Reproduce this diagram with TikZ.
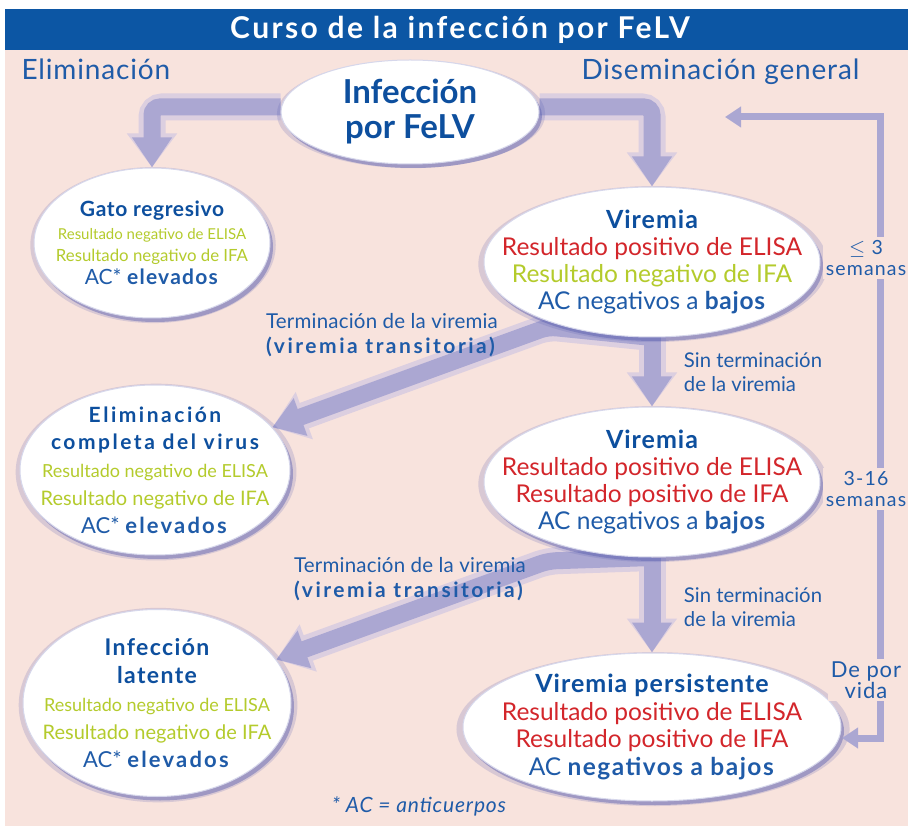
\documentclass[tikz,border=0pt]{standalone}
\usepackage{fontspec}
\setmainfont{Lato}
\usepackage{tikz}
\usetikzlibrary{positioning,arrows.meta,shapes.geometric,shadows,calc}
\pgfdeclarelayer{background}
\pgfsetlayers{background,main}

\definecolor{pinkbg}{HTML}{F8E3DD}
\definecolor{titlebar}{HTML}{0C56A4}
\definecolor{felvblue}{HTML}{0D4F9E}
\definecolor{textblue}{HTML}{1F5BA8}
\definecolor{felvred}{HTML}{D3262B}
\definecolor{felvgreen}{HTML}{B4CB2C}
\definecolor{bandcol}{HTML}{ABA7D2}
\definecolor{bandsoft}{HTML}{DCCFE0}
\definecolor{shadowblue}{HTML}{5A5FB0}

\newcommand{\spaced}[1]{\addfontfeature{LetterSpace=#1}}
\newcommand{\headline}{\bfseries\color{felvblue}}
\newcommand{\fs}[1]{\fontsize{#1}{27.8}\selectfont}

\begin{document}
\begin{tikzpicture}[
    x=1pt, y=-1pt,
    oval/.style={ellipse, fill=white, draw=shadowblue!25, line width=1pt, inner sep=-45pt, align=center, text=textblue,
      drop shadow={shadow xshift=1pt, shadow yshift=-2pt, shadow scale=1.04, fill=shadowblue, opacity=.2},
      drop shadow={shadow xshift=3pt, shadow yshift=-4pt, fill=shadowblue, opacity=.45}},
    band/.style={line width=17pt, draw=bandcol, rounded corners=8pt, -{Triangle[width=38pt,length=30pt]}},
    bandglow/.style={line width=27pt, draw=bandsoft, rounded corners=10pt, -{Triangle[width=48pt,length=34pt]}},
    loopline/.style={line width=7pt, draw=bandcol, {Triangle[width=20pt,length=16pt]}-{Triangle[width=20pt,length=16pt]}},
    sidelabel/.style={fill=pinkbg, inner sep=3pt, align=center, text=textblue, font=\fontsize{19.5}{21}\selectfont\spaced{6}},
    steplabel/.style={align=left, text=textblue, font=\fontsize{20.5}{24.5}\selectfont}
]
\useasboundingbox (0,0) rectangle (908,826);

% Header
\begin{pgfonlayer}{background}
\fill[pinkbg] (5,50) rectangle (908,826);
\fill[titlebar] (5,9) rectangle (908,50);
\end{pgfonlayer}
\node[text=white, font=\bfseries\fontsize{30}{30}\selectfont\spaced{8}] (title) at (460,30) {Curso de la infección por FeLV};
\node[anchor=base west, text=textblue, font=\fontsize{28}{28}\selectfont\spaced{3}] (elimlabel) at (18,80) {Eliminación};
\node[anchor=base west, text=textblue, font=\fontsize{28}{28}\selectfont\spaced{3}] (dislabel) at (578,80) {Diseminación general};

% Ellipses
\node[oval, minimum width=258pt, minimum height=104pt, font=\bfseries\fontsize{33}{35}\selectfont, text=felvblue] (infeccion) at (410,112) {Infección\\por FeLV};

\node[oval, minimum width=236pt, minimum height=150pt, font=\fontsize{15}{22.5}\selectfont] (gato) at (152,243)
  {{\fontsize{21}{22.5}\selectfont\headline\spaced{3} Gato regresivo}\\
   {\color{felvgreen}Resultado negativo de ELISA}\\
   {\fontsize{16.8}{22.5}\selectfont\color{felvgreen}Resultado negativo de IFA}\\
   {\fontsize{21}{22.5}\selectfont AC* \textbf{\spaced{6}elevados}}};

\node[oval, minimum width=336pt, minimum height=150pt, font=\fontsize{24.5}{27}\selectfont] (vir1) at (652,262)
  {{\fontsize{25}{27}\selectfont\headline\spaced{4} Viremia}\\
   {\color{felvred}Resultado positivo de ELISA}\\
   {\color{felvgreen}Resultado negativo de IFA}\\
   AC negativos a \textbf{\spaced{3}bajos}};

\node[oval, minimum width=270pt, minimum height=170pt, font=\fs{18}] (elim) at (155,470)
  {{\fs{21}\headline\spaced{12} Eliminación}\\
   {\fs{21}\headline\spaced{12} completa del virus}\\
   {\color{felvgreen}Resultado negativo de ELISA}\\
   {\fs{20}\color{felvgreen}Resultado negativo de IFA}\\
   {\fs{22}AC* \textbf{\spaced{10}elevados}}};

\node[oval, minimum width=336pt, minimum height=150pt, font=\fontsize{24.5}{27}\selectfont] (vir2) at (652,482)
  {{\fontsize{25}{27}\selectfont\headline\spaced{4} Viremia}\\
   {\color{felvred}Resultado positivo de ELISA}\\
   {\color{felvred}Resultado positivo de IFA}\\
   AC negativos a \textbf{\spaced{3}bajos}};

\node[oval, minimum width=268pt, minimum height=187pt, font=\fs{18}] (latente) at (157,703)
  {{\fs{23}\headline\spaced{6} Infección}\\
   {\fs{23}\headline\spaced{6} latente}\\
   {\color{felvgreen}Resultado negativo de ELISA}\\
   {\fs{20}\color{felvgreen}Resultado negativo de IFA}\\
   {\fs{22}AC* \textbf{\spaced{10}elevados}}};

\node[oval, minimum width=378pt, minimum height=148pt, font=\fontsize{24.5}{27.5}\selectfont] (persist) at (652,727)
  {{\fontsize{25}{27.5}\selectfont\headline\spaced{4} Viremia persistente}\\
   {\color{felvred}Resultado positivo de ELISA}\\
   {\color{felvred}Resultado positivo de IFA}\\
   AC \textbf{\spaced{6}negativos a bajos}};

% Step labels
\node[steplabel] (term1) at (382,335) {{\spaced{1}Terminación de la viremia}\\{\fontsize{21}{24.5}\selectfont\bfseries\spaced{12}(viremia transitoria)}};
\node[steplabel] (term2) at (410,579) {{\spaced{1}Terminación de la viremia}\\{\fontsize{21}{24.5}\selectfont\bfseries\spaced{12}(viremia transitoria)}};
\node[steplabel, font=\fontsize{20.3}{24}\selectfont] (sin1) at (753,372) {Sin terminación\\de la viremia};
\node[steplabel, font=\fontsize{20.3}{24}\selectfont] (sin2) at (753,607) {Sin terminación\\de la viremia};
\node[text=textblue, font=\itshape\fontsize{21}{22}\selectfont\spaced{4}] (nota) at (419,806) {* AC = anticuerpos};

% Thick arrows
\coordinate (bend1) at (548,327);
\coordinate (bend2) at (548,561);
\begin{pgfonlayer}{background}
\draw[bandglow] ([yshift=5pt]infeccion.west) -| (gato.north);
\draw[bandglow] ([yshift=5pt]infeccion.east) -| (vir1.north);
\draw[bandglow] (vir1.south) -- (vir2.north);
\draw[bandglow] (vir1.south) -- (bend1) -- (elim.20);
\draw[bandglow] (vir2.south) -- (persist.north);
\draw[bandglow] (vir2.south) -- (bend2) -- (latente.20);
\draw[band] ([yshift=5pt]infeccion.west) -| (gato.north);
\draw[band] ([yshift=5pt]infeccion.east) -| (vir1.north);
\draw[band] (vir1.south) -- (vir2.north);
\draw[band] (vir1.south) -- (bend1) -- (elim.20);
\draw[band] (vir2.south) -- (persist.north);
\draw[band] (vir2.south) -- (bend2) -- (latente.20);
\end{pgfonlayer}

% Time loop
\coordinate (looptop) at (725,117);
\coordinate (loopbot) at (842,738);
\draw[loopline] (looptop) -- (880,117) -- (880,738) -- (loopbot);
\node[sidelabel] (wk3) at (866,258) {$\leq$ 3\\semanas};
\node[sidelabel] (wk16) at (866,489) {3-16\\semanas};
\node[sidelabel, font=\fontsize{22}{21}\selectfont\spaced{4}] (vida) at (866,680) {De por\\vida};

\end{tikzpicture}
\end{document}
